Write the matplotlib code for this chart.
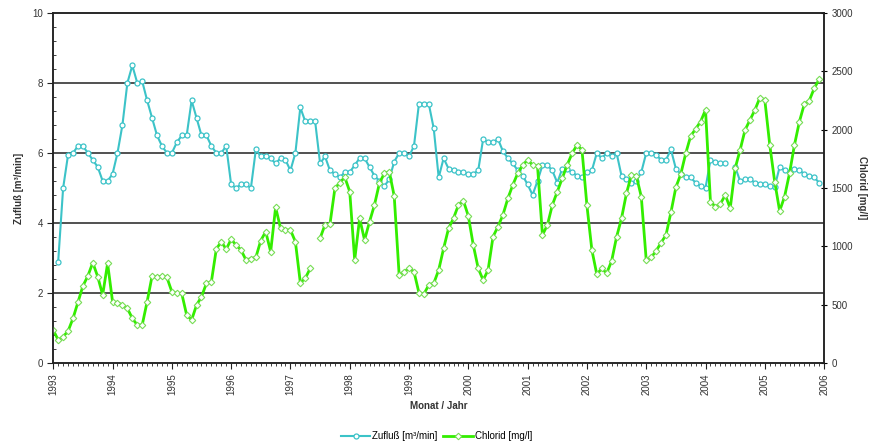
import matplotlib.pyplot as plt
import numpy as np

plt.rcParams['font.family'] = ['Liberation Sans', 'DejaVu Sans']

# monthly values, Jan 1993 .. Dec 2005
years = list(range(1993, 2007))

zufluss = [
    np.nan, 2.9, 5.0, 5.95, 6.0, 6.2, 6.2, 6.0, 5.8, 5.6, 5.2, 5.2,          # 1993
    5.4, 6.0, 6.8, 8.0, 8.5, 8.0, 8.05, 7.5, 7.0, 6.5, 6.2, 6.0,            # 1994
    6.0, 6.3, 6.5, 6.5, 7.5, 7.0, 6.5, 6.5, 6.2, 6.0, 6.0, 6.2,             # 1995
    5.1, 5.0, 5.1, 5.1, 5.0, 6.1, 5.9, 5.9, 5.85, 5.7, 5.85, 5.8,           # 1996
    5.5, 6.0, 7.3, 6.9, 6.9, 6.9, 5.7, 5.9, 5.5, 5.4, 5.3, 5.45,            # 1997
    5.45, 5.65, 5.85, 5.85, 5.6, 5.35, 5.2, 5.05, 5.25, 5.75, 6.0, 6.0,     # 1998
    5.9, 6.2, 7.4, 7.4, 7.4, 6.7, 5.3, 5.85, 5.55, 5.5, 5.45, 5.45,         # 1999
    5.4, 5.4, 5.5, 6.4, 6.3, 6.3, 6.4, 6.05, 5.85, 5.7, 5.5, 5.35,          # 2000
    5.1, 4.8, 5.2, 5.65, 5.65, 5.5, 5.15, 5.55, 5.55, 5.45, 5.35, 5.3,      # 2001
    5.45, 5.5, 6.0, 5.85, 6.0, 5.9, 6.0, 5.35, 5.25, 5.15, 5.2, 5.45,       # 2002
    6.0, 6.0, 5.95, 5.8, 5.8, 6.1, 5.55, 5.4, 5.3, 5.3, 5.15, 5.05,         # 2003
    5.0, 5.8, 5.75, 5.7, 5.7, np.nan, 5.6, 5.2, 5.25, 5.25, 5.15, 5.12,     # 2004
    5.1, 5.05, 5.04, 5.6, 5.5, 5.45, 5.55, 5.5, 5.4, 5.35, 5.3, 5.15,       # 2005
]

chlorid = [
    283, 197, 226, 274, 383, 520, 660, 746, 860, 740, 583, 854,
    526, 517, 497, 469, 383, 326, 326, 526, 746, 734, 746, 734,
    611, 597, 597, 411, 369, 497, 568, 683, 697, 977, 1040, 975,
    1060, 1011, 969, 883, 895, 905, 1050, 1126, 954, 1335, 1154, 1140,
    1140, 1040, 688, 726, 811, np.nan, 1069, 1186, 1191, 1497, 1546, 1592,
    1469, 883, 1240, 1054, 1211, 1354, 1540, 1626, 1640, 1431, 754, 783,
    811, 783, 603, 591, 669, 683, 797, 983, 1154, 1240, 1355, 1391,
    1260, 1011, 811, 711, 797, 1083, 1169, 1269, 1411, 1526, 1626, 1697,
    1740, 1697, 1689, 1097, 1183, 1354, 1469, 1583, 1697, 1797, 1869, 1826,
    1350, 969, 760, 811, 769, 875, 1080, 1240, 1454, 1611, 1603, 1426,
    883, 906, 960, 1031, 1097, 1291, 1506, 1620, 1797, 1946, 2006, 2069,
    2169, 1383, 1340, 1363, 1440, 1326, 1669, 1826, 1997, 2083, 2169, 2274,
    2254, 1869, 1554, 1303, 1426, 1626, 1869, 2069, 2220, 2249, 2354, 2431,
]

months = np.arange(len(chlorid))
cyan = '#3cc3c8'
green = '#33ee00'
txt = '#333333'

fig = plt.figure(figsize=(8.73, 4.46), dpi=100)
ax = fig.add_axes([0.061, 0.186, 0.883, 0.785])
ax2 = ax.twinx()

l1, = ax.plot(months, zufluss, color=cyan, lw=1.5, marker='o', ms=3.6,
              mfc='white', mec=cyan, mew=0.9, label='Zufluß [m³/min]')
l2, = ax2.plot(months, chlorid, color=green, lw=2, marker='D', ms=3.3,
               mfc='white', mec='#77dd55', mew=0.8, label='Chlorid [mg/l]')

ax.set_xlim(0, 156)
ax.set_ylim(0, 10)
ax2.set_ylim(0, 3000)

for y in [2, 4, 6, 8]:
    ax.axhline(y, color='#222222', lw=1.1, zorder=0)

ax.set_yticks(np.arange(0, 11, 2))
ax.set_yticks(np.arange(0, 10.01, 0.4), minor=True)
ax2.set_yticks(np.arange(0, 3001, 500))
ax.set_xticks(np.arange(0, 157, 12))
ax.set_xticks(np.arange(0, 157, 1), minor=True)
ax.set_xticklabels([str(y) for y in years], rotation=90)

for a in (ax, ax2):
    for s in a.spines.values():
        s.set_color('#222222')
        s.set_linewidth(1.1)
ax.tick_params(axis='both', which='major', labelsize=7, colors='#222222',
               labelcolor=txt, length=4, width=0.8)
ax.tick_params(axis='both', which='minor', length=2.5, width=0.6, colors='#222222')
ax.tick_params(axis='x', which='both', direction='out')
ax.tick_params(axis='y', which='minor', direction='in')
ax2.tick_params(axis='y', labelsize=7, labelcolor=txt, length=4, width=0.8,
                direction='inout')

ax.set_xlabel('Monat / Jahr', fontsize=7, color=txt, fontweight='bold', labelpad=4)
ax.set_ylabel('Zufluß [m³/min]', fontsize=7, color=txt, fontweight='bold', labelpad=6)
ax2.set_ylabel('Chlorid [mg/l]', fontsize=7, color=txt, fontweight='bold',
               rotation=-90, labelpad=10)

fig.legend(handles=[l1, l2], loc='center', bbox_to_anchor=(0.5, 0.022), ncol=2,
           frameon=False, fontsize=7, handlelength=3, columnspacing=0.6,
           handletextpad=0.2)

fig.savefig('out.png', dpi=100)
